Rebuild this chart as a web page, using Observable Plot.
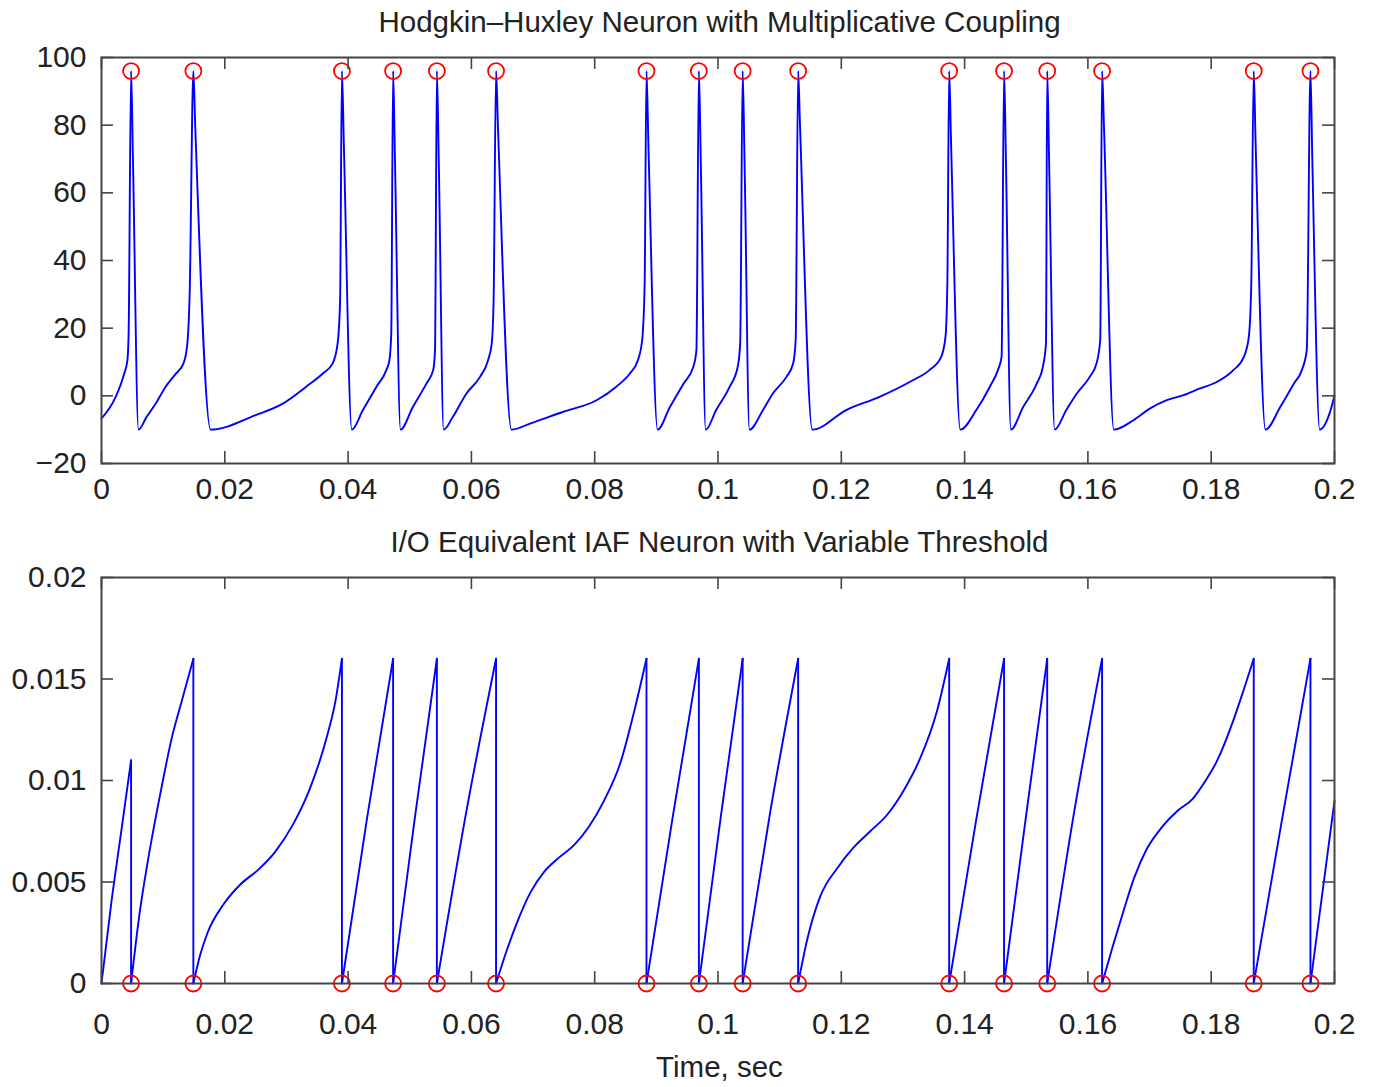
<!DOCTYPE html>
<html>
<head>
<meta charset="utf-8">
<script src="https://cdn.jsdelivr.net/npm/d3@7"></script>
<script src="https://cdn.jsdelivr.net/npm/@observablehq/plot@0.6"></script>
<style>
  html, body { margin: 0; padding: 0; background: #fff; }
  #page { position: relative; width: 1373px; height: 1087px; overflow: hidden; font-family: "Liberation Sans", Arial, Helvetica, sans-serif; color: #222; }
  .ttl { position: absolute; left: 33px; width: 1373px; text-align: center; font-size: 29.5px; line-height: 29.5px; white-space: nowrap; }
  .panel { position: absolute; left: 0; }
</style>
</head>
<body>
<div id="page">
  <div class="ttl" id="t1" style="top:7px">Hodgkin–Huxley Neuron with Multiplicative Coupling</div>
  <div class="panel" id="p1" style="top:40px"></div>
  <div class="ttl" id="t2" style="top:527px">I/O Equivalent IAF Neuron with Variable Threshold</div>
  <div class="panel" id="p2" style="top:560px"></div>
  <div class="ttl" id="t3" style="top:1052px">Time, sec</div>
</div>
<script>
// ---------------- DATA ----------------
const xTicks = [0, 0.02, 0.04, 0.06, 0.08, 0.1, 0.12, 0.14, 0.16, 0.18, 0.2];
const xTickLabels = ["0", "0.02", "0.04", "0.06", "0.08", "0.1", "0.12", "0.14", "0.16", "0.18", "0.2"];
const hhYTicks = [-20, 0, 20, 40, 60, 80, 100];
const hhYTickLabels = ["\u221220", "0", "20", "40", "60", "80", "100"];
const iafYTicks = [0, 0.005, 0.01, 0.015, 0.02];
const iafYTickLabels = ["0", "0.005", "0.01", "0.015", "0.02"];

// spike times (s), marked with red circles in both panels
const spikeTimes = [0.0048, 0.0149, 0.0390, 0.0473, 0.0544, 0.0640, 0.0884, 0.0969,
                    0.1040, 0.1130, 0.1375, 0.1464, 0.1534, 0.1623, 0.1869, 0.1961];
const hhSpikePeak = 96;   // membrane voltage at the spike markers
const iafSpikeLevel = 0;  // IAF markers sit on zero

// Hodgkin-Huxley membrane voltage trace [time (s), voltage]
const hhTrace = [
  [0,-6.7],[0.0023,-0.3],[0.0036,6.1],[0.0042,10.5],[0.0044,18.4],[0.0048,96],[0.0051,70],[0.0060,-10],
  [0.0073,-6.3],[0.0088,-2.3],[0.0104,2.7],[0.0120,6.4],[0.0133,9.6],[0.0139,15],[0.0143,30],[0.0149,96],[0.0152,80],[0.0177,-10],
  [0.0250,-5.7],[0.0294,-2.3],[0.0332,2.7],[0.0359,6.6],[0.0375,9.6],[0.0383,15.5],[0.0387,28],[0.0390,96],[0.0393,75],[0.0406,-10],
  [0.0424,-4.2],[0.0446,2.7],[0.0462,7.6],[0.0467,10.5],[0.0470,18.4],[0.0473,96],[0.0476,70],[0.0485,-10],
  [0.0505,-3.3],[0.0527,3.6],[0.0538,7.6],[0.0541,13.5],[0.0544,96],[0.0547,70],[0.0555,-10],
  [0.0570,-6.2],[0.0592,0.7],[0.0614,5.6],[0.0627,10.5],[0.0633,15.5],[0.0636,28],[0.0640,96],[0.0643,80],[0.0665,-10],
  [0.0695,-8.2],[0.0749,-4.7],[0.0803,-1.3],[0.0835,2.7],[0.0857,6.6],[0.0870,10.5],[0.0877,16.5],[0.0881,33],[0.0884,96],[0.0887,75],[0.0902,-10],
  [0.0922,-3.3],[0.0944,3.6],[0.0960,8.6],[0.0965,13.5],[0.0969,96],[0.0972,70],[0.0980,-10],
  [0.0997,-4.2],[0.1019,2.7],[0.1032,8.6],[0.1036,15.5],[0.1040,96],[0.1043,70],[0.1051,-10],
  [0.1073,-4.2],[0.1089,0.7],[0.1111,5.6],[0.1122,9.6],[0.1126,16.5],[0.1130,96],[0.1133,80],[0.1153,-10],
  [0.1208,-4.2],[0.1262,-0.3],[0.1316,4.6],[0.1343,7.6],[0.1362,11.5],[0.1369,17.4],[0.1372,33],[0.1375,96],[0.1378,75],[0.1393,-10],
  [0.1419,-4.2],[0.1441,2.7],[0.1454,7.6],[0.1460,11.5],[0.1464,96],[0.1467,70],[0.1475,-10],
  [0.1495,-3.3],[0.1517,3.6],[0.1527,8.6],[0.1532,15.5],[0.1534,96],[0.1537,70],[0.1546,-10],
  [0.1565,-4.2],[0.1582,0.7],[0.1603,5.6],[0.1614,9.6],[0.1620,16.5],[0.1623,96],[0.1626,80],[0.1642,-10],
  [0.1674,-7.2],[0.1701,-3.7],[0.1728,-1.3],[0.1755,0.2],[0.1782,2.2],[0.1809,4.1],[0.1836,7.6],[0.1853,11.5],[0.1861,17.4],[0.1865,33],[0.1869,96],[0.1872,75],[0.1888,-10],
  [0.1912,-3.3],[0.1934,3.6],[0.1947,7.6],[0.1955,13.5],[0.1961,96],[0.1964,70],[0.1976,-10],
  [0.1992,-5.2],[0.2,0]
];

// IAF integrator trace [time (s), value]; each reset starts a new rising segment at 0
const iafTrace = [
  [0,0],[0.0016,0.0040],[0.0033,0.0077],[0.0048,0.0110],
  [0.0048,0],[0.0062,0.0035],[0.0075,0.0060],[0.0097,0.0096],[0.0114,0.0121],[0.0131,0.0140],[0.0149,0.0160],
  [0.0149,0],[0.0160,0.0014],[0.0172,0.0025],[0.0198,0.0039],[0.0226,0.0049],[0.0254,0.0056],[0.0282,0.0065],[0.0310,0.0078],[0.0338,0.0096],[0.0366,0.0122],[0.0380,0.0140],[0.0390,0.0160],
  [0.0390,0],[0.0431,0.0082],[0.0473,0.0160],
  [0.0473,0],[0.0508,0.0081],[0.0544,0.0160],
  [0.0544,0],[0.0592,0.0085],[0.0640,0.0160],
  [0.0640,0],[0.0657,0.0016],[0.0674,0.0030],[0.0696,0.0045],[0.0718,0.0055],[0.0742,0.0062],[0.0766,0.0068],[0.0790,0.0077],[0.0815,0.0090],[0.0842,0.0109],[0.0864,0.0134],[0.0884,0.0160],
  [0.0884,0],[0.0926,0.0081],[0.0969,0.0160],
  [0.0969,0],[0.1004,0.0081],[0.1040,0.0160],
  [0.1040,0],[0.1085,0.0085],[0.1130,0.0160],
  [0.1130,0],[0.1145,0.0022],[0.1166,0.0043],[0.1194,0.0057],[0.1220,0.0067],[0.1247,0.0075],[0.1274,0.0083],[0.1301,0.0095],[0.1328,0.0111],[0.1355,0.0134],[0.1375,0.0160],
  [0.1375,0],[0.1419,0.0081],[0.1464,0.0160],
  [0.1464,0],[0.1499,0.0081],[0.1534,0.0160],
  [0.1534,0],[0.1578,0.0085],[0.1623,0.0160],
  [0.1623,0],[0.1640,0.0018],[0.1658,0.0036],[0.1675,0.0052],[0.1695,0.0066],[0.1720,0.0077],[0.1745,0.0085],[0.1770,0.0091],[0.1791,0.0100],[0.1810,0.0110],[0.1834,0.0128],[0.1852,0.0144],[0.1869,0.0160],
  [0.1869,0],[0.1915,0.0081],[0.1961,0.0160],
  [0.1961,0],[0.2,0.0090]
];

// ---------------- DERIVED TABLES ----------------
const hhRows = hhTrace.map(([t, v]) => ({t, v}));
let seg = 0;
const iafRows = [];
const iafDrops = [];
iafTrace.forEach(([t, u], i) => {
  if (i > 0 && u === 0) {
    seg++;
    iafDrops.push({t, top: iafTrace[i - 1][1]});
  }
  iafRows.push({t, u, seg});
});

// ---------------- STYLE ----------------
const W = 1373, ML = 101, MR = 39, MT = 17, PH = 406, MB = 60;
const INK = "#444", TXT = "#222", BLUE = "#0000ff", RED = "#ff0000";
const TICK = 12, FS = 30;
const fmt = (ticks, labels) => d => labels[ticks.findIndex(v => Math.abs(v - d) < 1e-12)];

function frameMarks(yTicks, yLabels, xPad) {
  return [
    Plot.axisX(xTicks, {anchor: "bottom", tickSize: 0, tickPadding: xPad, tickFormat: fmt(xTicks, xTickLabels), label: null, fontSize: FS, fill: TXT}),
    Plot.axisY(yTicks, {anchor: "left", tickSize: 0, tickPadding: 15, tickFormat: fmt(yTicks, yLabels), label: null, fontSize: FS, fill: TXT}),
    Plot.tickX(xTicks, {x: d => d, insetTop: PH - TICK, stroke: INK, strokeWidth: 1.6}),
    Plot.tickX(xTicks, {x: d => d, insetBottom: PH - TICK, stroke: INK, strokeWidth: 1.6}),
    Plot.tickY(yTicks, {y: d => d, insetRight: (W - ML - MR) - TICK, stroke: INK, strokeWidth: 1.6}),
    Plot.tickY(yTicks, {y: d => d, insetLeft: (W - ML - MR) - TICK, stroke: INK, strokeWidth: 1.6}),
    Plot.frame({stroke: INK, strokeWidth: 2})
  ];
}

const common = {
  width: W, height: MT + PH + MB,
  marginLeft: ML, marginRight: MR, marginTop: MT, marginBottom: MB,
  style: {fontFamily: "'Liberation Sans', Arial, Helvetica, sans-serif", fontSize: FS + "px", color: TXT, background: "transparent", overflow: "visible"},
  x: {domain: [0, 0.2]}
};

const p1 = Plot.plot({
  ...common,
  y: {domain: [-20, 100]},
  marks: [
    Plot.line(hhRows, {x: "t", y: "v", stroke: BLUE, strokeWidth: 1.9, curve: "monotone-x"}),
    Plot.dot(spikeTimes, {x: d => d, y: () => hhSpikePeak, r: 8, stroke: RED, strokeWidth: 1.8, fill: "none"}),
    ...frameMarks(hhYTicks, hhYTickLabels, 14)
  ]
});

const p2 = Plot.plot({
  ...common,
  y: {domain: [0, 0.02]},
  marks: [
    Plot.line(iafRows, {x: "t", y: "u", z: "seg", stroke: BLUE, strokeWidth: 1.9, curve: "monotone-x"}),
    Plot.ruleX(iafDrops, {x: "t", y1: () => 0, y2: "top", stroke: BLUE, strokeWidth: 1.9}),
    Plot.dot(spikeTimes, {x: d => d, y: () => iafSpikeLevel, r: 8, stroke: RED, strokeWidth: 1.8, fill: "none"}),
    ...frameMarks(iafYTicks, iafYTickLabels, 29)
  ]
});

document.getElementById("p1").appendChild(p1);
document.getElementById("p2").appendChild(p2);
</script>
</body>
</html>
